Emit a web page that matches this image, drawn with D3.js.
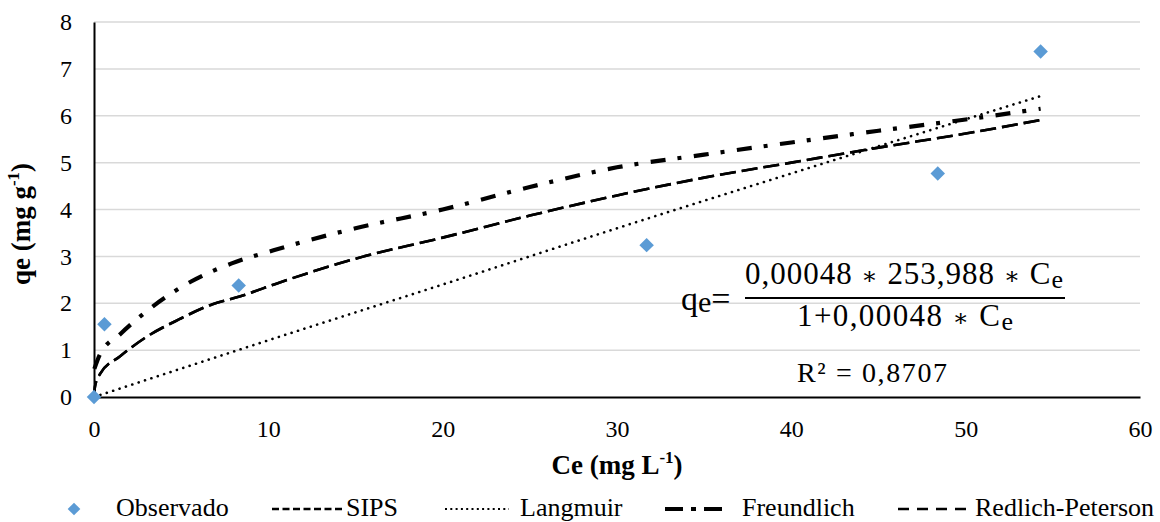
<!DOCTYPE html>
<html>
<head>
<meta charset="utf-8">
<script src="https://cdn.jsdelivr.net/npm/d3@7.9.0/dist/d3.min.js"></script>
<style>
  body { margin: 0; background: #fff; }
  svg text { font-family: "Liberation Serif"; }
  svg text tspan.star { font-family: "DejaVu Serif"; }
</style>
</head>
<body>
<svg width="1160" height="522"></svg>
<script>
// observed points
const obsCe = [0, 0.6, 8.3, 31.7, 48.4, 54.3];
const obsQe = [0, 1.55, 2.38, 3.24, 4.77, 7.37];

// fitted curves
const sipsCe = [0, 0.06, 0.34, 1.5, 3.0, 4.9, 6.8, 8.4, 10.7, 15, 20, 25, 30, 35, 40, 45, 50, 54.3];
const sipsQe = [0, 0.23, 0.49, 0.87, 1.28, 1.66, 1.98, 2.15, 2.45, 2.95, 3.4, 3.87, 4.3, 4.68, 5.0, 5.32, 5.62, 5.91];

const rpCe = [0, 0.06, 0.34, 1.5, 3.0, 4.9, 6.8, 8.4, 10.7, 15, 20, 25, 30, 35, 40, 45, 50, 54.3];
const rpQe = [0, 0.23, 0.49, 0.87, 1.28, 1.66, 1.98, 2.15, 2.45, 2.95, 3.4, 3.87, 4.3, 4.68, 5.0, 5.32, 5.62, 5.91];

const langCe = [0, 10, 20, 30, 40, 54.3];
const langQe = [0, 1.21, 2.4, 3.6, 4.77, 6.42];

const freuCe = [0.02, 0.34, 1.5, 3.4, 5.6, 7.9, 10.3, 15, 20, 25, 30, 35, 40, 45, 50, 54.3];
const freuQe = [0.6, 0.91, 1.34, 1.94, 2.47, 2.85, 3.13, 3.6, 4.0, 4.48, 4.9, 5.17, 5.43, 5.68, 5.92, 6.15];

const xTicks = [0, 10, 20, 30, 40, 50, 60];
const yTicks = [0, 1, 2, 3, 4, 5, 6, 7, 8];

const svg = d3.select('svg');
const x = d3.scaleLinear().domain([0, 60]).range([94, 1140]);
const y = d3.scaleLinear().domain([0, 8]).range([397, 22]);

// grid
svg.append('g').selectAll('line')
  .data(yTicks.slice(1))
  .join('line')
  .attr('x1', x(0)).attr('x2', x(60))
  .attr('y1', d => y(d)).attr('y2', d => y(d))
  .attr('stroke', '#d9d9d9').attr('stroke-width', 1.5);

// axes
const xAxis = svg.append('g')
  .attr('transform', `translate(0,${y(0)})`)
  .call(d3.axisBottom(x).tickValues(xTicks).tickSize(0).tickPadding(23));
const yAxis = svg.append('g')
  .attr('transform', `translate(${x(0)},0)`)
  .call(d3.axisLeft(y).tickValues(yTicks).tickSize(0).tickPadding(22));
[xAxis, yAxis].forEach(g => {
  g.attr('font-family', 'Liberation Serif').attr('font-size', 24);
  g.select('.domain').attr('stroke', '#000').attr('stroke-width', 2);
  g.selectAll('text').attr('fill', '#000');
});

const line = d3.line().x(d => x(d[0])).y(d => y(d[1])).curve(d3.curveMonotoneX);
const zip = (a, b) => a.map((v, i) => [v, b[i]]);

function drawCurve(xs, ys, w, dash, cap) {
  svg.append('path')
    .datum(zip(xs, ys))
    .attr('d', line)
    .attr('fill', 'none')
    .attr('stroke', '#000')
    .attr('stroke-width', w)
    .attr('stroke-dasharray', dash)
    .attr('stroke-linecap', cap || 'butt');
}
drawCurve(langCe, langQe, 2.6, '0.1,6.6', 'round');
drawCurve(sipsCe, sipsQe, 2.6, '16,6');
drawCurve(rpCe, rpQe, 2.6, '16,6');
drawCurve(freuCe, freuQe, 4.2, '15,12,4,12.5');

// observed diamonds
svg.append('g').selectAll('path')
  .data(zip(obsCe, obsQe))
  .join('path')
  .attr('d', d3.symbol().type(d3.symbolSquare).size(105))
  .attr('transform', d => `translate(${x(d[0])},${y(d[1])}) rotate(45)`)
  .attr('fill', '#5b9bd5');

// axis titles
svg.append('text')
  .attr('x', 617).attr('y', 474)
  .attr('text-anchor', 'middle')
  .attr('font-size', 27).attr('font-weight', 'bold')
  .html('Ce (mg L<tspan dy="-11" font-size="17">-1</tspan><tspan dy="11">)</tspan>');
svg.append('text')
  .attr('transform', 'translate(30,224) rotate(-90)')
  .attr('text-anchor', 'middle')
  .attr('font-size', 27).attr('font-weight', 'bold')
  .html('qe (mg g<tspan dy="-11" font-size="17">-1</tspan><tspan dy="11">)</tspan>');

// equation
const star = '<tspan class="star" font-size="24">∗</tspan>';
const eq = svg.append('g').attr('fill', '#000');
eq.append('text').attr('x', 681).attr('y', 310).attr('font-size', 34)
  .html('q<tspan font-size="30" dy="2">e</tspan><tspan dy="-2">=</tspan>');
eq.append('line').attr('x1', 745).attr('x2', 1065).attr('y1', 298).attr('y2', 298)
  .attr('stroke', '#000').attr('stroke-width', 2);
eq.append('text').attr('x', 745).attr('y', 284).attr('font-size', 31)
  .attr('textLength', 318)
  .html(`0,00048 ${star} 253,988 ${star} C<tspan font-size="26" dy="4">e</tspan>`);
eq.append('text').attr('x', 797).attr('y', 326).attr('font-size', 31)
  .attr('textLength', 216)
  .html(`1+0,00048 ${star} C<tspan font-size="26" dy="4">e</tspan>`);
eq.append('text').attr('x', 797).attr('y', 382).attr('font-size', 28)
  .attr('textLength', 150)
  .text('R² = 0,8707');

// legend
const lg = svg.append('g');
const ly = 509;
lg.append('path').attr('d', d3.symbol().type(d3.symbolSquare).size(80))
  .attr('transform', `translate(74,${ly}) rotate(45)`).attr('fill', '#5b9bd5');
const legendLines = [
  { x0: 272, x1: 343, w: 2.5, dash: '7,3.5' },
  { x0: 445, x1: 509, w: 2, dash: '2,3.3' },
  { x0: 665, x1: 724, w: 4, dash: '18,8,5,8' },
  { x0: 898, x1: 968, w: 2.5, dash: '11,8' }
];
legendLines.forEach(d => {
  lg.append('line').attr('x1', d.x0).attr('x2', d.x1).attr('y1', ly).attr('y2', ly)
    .attr('stroke', '#000').attr('stroke-width', d.w).attr('stroke-dasharray', d.dash);
});
const legendLabels = ['Observado', 'SIPS', 'Langmuir', 'Freundlich', 'Redlich-Peterson'];
const legendTextX = [116, 346, 520, 742, 975];
legendLabels.forEach((t, i) => {
  lg.append('text').attr('x', legendTextX[i]).attr('y', 516)
    .attr('font-size', 26).attr('fill', '#000').text(t);
});
</script>
</body>
</html>
